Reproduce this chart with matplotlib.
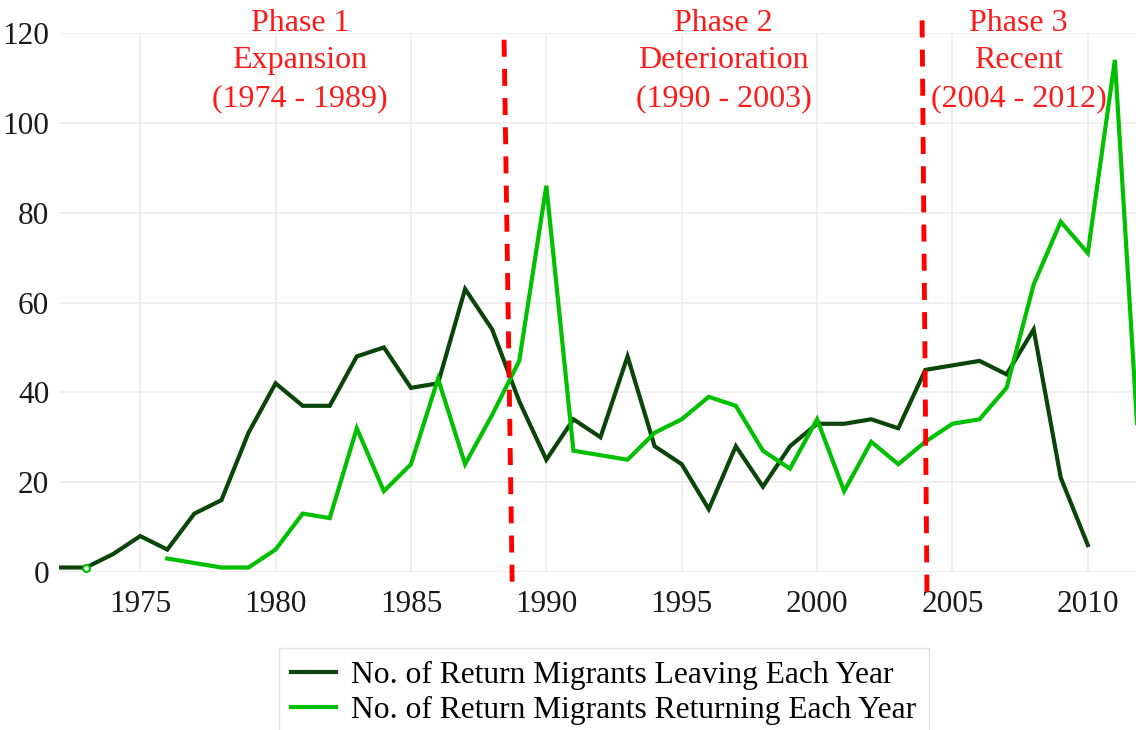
import numpy as np
import matplotlib
matplotlib.use("Agg")
import matplotlib.pyplot as plt

# Return migrants per year
years = list(range(1972, 2013))
leaving = [1, 1, 4, 8, 5, 13, 16, 31, 42, 37, 37, 48, 50, 41, 42, 63, 54, 38,
           25, 34, 30, 48, 28, 24, 14, 28, 19, 28, 33, 33, 34, 32, 45, 46, 47,
           44, 54, 21, 6, np.nan, np.nan]
returning = [np.nan, 1, np.nan, np.nan, 3, 2, 1, 1, 5, 13, 12, 32, 18, 24, 43,
             24, 35, 47, 86, 27, 26, 25, 31, 34, 39, 37, 27, 23, 34, 18, 29,
             24, 29, 33, 34, 41, 64, 78, 71, 114, 15]

phase_labels = ["Phase 1\nExpansion\n(1974 - 1989)",
                "Phase 2\nDeterioration\n(1990 - 2003)",
                "Phase 3\nRecent\n(2004 - 2012)"]
phase_centers = [1980.9, 1996.55, 2007.45]
# hand-drawn dividers: (x_top, x_bottom, y_top, y_bottom)
dividers = [(1988.44, 1988.74, 118.5, -3.0),
            (2003.88, 2004.06, 122.8, -5.0)]

x_ticks = [1975, 1980, 1985, 1990, 1995, 2000, 2005, 2010]
y_ticks = [0, 20, 40, 60, 80, 100, 120]

dark_green = "#0a450a"
light_green = "#00c000"

plt.rcParams["font.family"] = ["Liberation Serif", "DejaVu Serif"]

fig = plt.figure(figsize=(11.36, 7.30), dpi=100)
ax = fig.add_axes([59 / 1136, 158 / 730, 1077 / 1136, 539 / 730])

x = np.array(years, dtype=float)
ret = np.array(returning, dtype=float)
ax.plot(x, leaving, color=dark_green, lw=3, label="No. of Return Migrants Leaving Each Year",
        solid_joinstyle="miter", zorder=3)
ax.plot(x, ret, color=light_green, lw=3, label="No. of Return Migrants Returning Each Year",
        solid_joinstyle="miter", zorder=4)

# isolated points of the returning series show up as small open circles
valid = ~np.isnan(ret)
prev_ok = np.r_[False, valid[:-1]]
next_ok = np.r_[valid[1:], False]
lonely = valid & ~prev_ok & ~next_ok
ax.plot(x[lonely], ret[lonely], linestyle="none", marker="o", ms=5, mfc="white",
        mec=light_green, mew=1.6, zorder=5)

for x0, x1, y0, y1 in dividers:
    ax.plot([x0, x1], [y0, y1], color="#ff0000", lw=3.5, linestyle=(0, (3.5, 2.5)),
            clip_on=False, zorder=6)

for label, cx in zip(phase_labels, phase_centers):
    ax.text(cx, 113.8, label, color="#ff1a1a", fontsize=23, ha="center", va="center",
            multialignment="center", linespacing=1.39, clip_on=False)

ax.set_xlim(1972, 2011.78)
ax.set_ylim(0, 120)
ax.set_xticks(x_ticks)
ax.set_yticks(y_ticks)
ax.tick_params(axis="both", length=0, labelsize=22.5, colors="#1a1a1a")
ax.tick_params(axis="x", pad=13)
ax.tick_params(axis="y", pad=7)
ax.grid(True, color="#ebebeb", lw=1.1)
ax.set_axisbelow(True)
for s in ax.spines.values():
    s.set_visible(False)

leg = fig.legend(loc="upper center", bbox_to_anchor=(604 / 1136, 82 / 730), fontsize=22.7,
                 frameon=True, fancybox=False, edgecolor="#e3e3e3", framealpha=1,
                 handlelength=1.4, handletextpad=0.5, labelspacing=0.2,
                 borderpad=0.4, borderaxespad=0)
for line in leg.get_lines():
    line.set_linewidth(3)

fig.savefig("out.png", dpi=100)
